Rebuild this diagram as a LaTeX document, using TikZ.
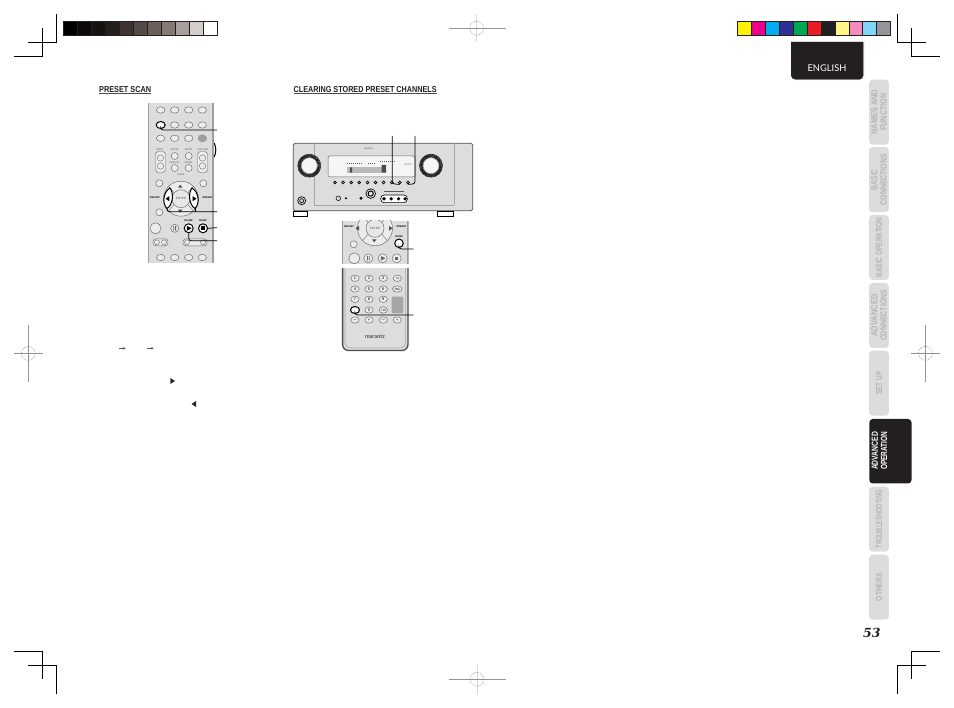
\documentclass[tikz,border=0pt]{standalone}
\usepackage{fontspec}
\setmainfont{Liberation Sans}
\newfontfamily\gillfont{Lato}
\newfontfamily\numfont{DejaVu Serif}
\usetikzlibrary{shapes.geometric,arrows.meta}
\definecolor{inkk}{HTML}{231F20}
\definecolor{tabgray}{HTML}{DBDCDD}
\definecolor{tabtext}{HTML}{B4B5B8}
\definecolor{bodygray}{HTML}{DCDDDC}
\definecolor{btnline}{HTML}{666666}
\newcommand{\fitw}[2]{\resizebox{#1pt}{6.2pt}{\bfseries #2}}
\tikzset{
  x=1pt,y=-1pt,
  crop/.style={line width=0.75pt,black},
  regline/.style={line width=0.5pt,gray!85},
  regpale/.style={line width=0.9pt,gray!30},
  regcirc/.style={line width=0.5pt,gray!90!black,densely dotted},
  tabnode/.style={rotate=90,fill=tabgray,rounded corners=3.5pt,minimum width=65pt,minimum height=19.6pt,inner sep=0pt,align=center,text=tabtext,font=\fontsize{8.5}{9.2}\selectfont},
  heading/.style={anchor=west,inner sep=0pt,text=inkk},
  headrule/.style={line width=0.5pt,gray!60!black},
  btn/.style={ellipse,draw=btnline,line width=0.45pt,fill=bodygray!55!white,minimum width=8.4pt,minimum height=6.4pt,inner sep=0pt},
  rbtn/.style={circle,draw=btnline,line width=0.45pt,fill=bodygray!55!white,minimum size=7pt,inner sep=0pt},
  hlbtn/.style={circle,draw=black,line width=1pt,fill=white,minimum size=8pt,inner sep=0pt},
  hloval/.style={ellipse,draw=black,line width=1pt,fill=white,minimum width=9pt,minimum height=7pt,inner sep=0pt},
  pill/.style={draw=btnline,line width=0.45pt,fill=bodygray!55!white,rounded corners=3pt},
  leader/.style={line width=0.75pt,black,rounded corners=2.5pt},
  tiny/.style={inner sep=0pt,text=black!65,font=\fontsize{2.5}{3}\selectfont},
  tinyb/.style={inner sep=0pt,text=black,font=\fontsize{2.5}{3}\bfseries\selectfont},
  bodyfill/.style={fill=bodygray},
  edge/.style={line width=1.2pt,gray!75},
  ampdot/.style={circle,draw=black,line width=0.7pt,fill=gray!30,minimum size=2.8pt,inner sep=0pt},
}
\newcommand{\dpadat}[2]{%
  \begin{scope}[shift={(#1,#2)}]
    \draw[btnline,line width=0.45pt,fill=bodygray!55!white] (0,0) circle[radius=17.5];
    \draw[btnline,line width=0.45pt,fill=bodygray!70!white] (0,0) circle[radius=9];
    \draw[btnline,line width=0.35pt] (-7,-6) -- (-12.5,-12.5) (7,-6) -- (12.5,-12.5) (-7,6) -- (-12.5,12.5) (7,6) -- (12.5,12.5);
    \fill[black!70] (-3,-11) -- (-0.8,-14) -- (1.4,-11) -- cycle;
    \fill[black!70] (-3,11) -- (-0.8,14) -- (1.4,11) -- cycle;
    \node[tiny,font=\fontsize{3}{3.5}\selectfont] at (0,0) {ENTER};
  \end{scope}}
\begin{document}
\begin{tikzpicture}
\useasboundingbox (0,0) rectangle (954,708);
\fill[white] (0,0) rectangle (954,708);
% crop marks
\draw[crop] (56.3,14) -- (56.3,42.7) -- (28,42.7);
\draw[crop] (42.5,28) -- (42.5,56.5) -- (14,56.5);
\draw[crop] (897.3,14) -- (897.3,42.7) -- (926,42.7);
\draw[crop] (911.3,28) -- (911.3,56.5) -- (940,56.5);
\draw[crop] (14,651.3) -- (42.5,651.3) -- (42.5,678.7);
\draw[crop] (28,665.3) -- (56.3,665.3) -- (56.3,693.5);
\draw[crop] (940,651.3) -- (911.3,651.3) -- (911.3,678.7);
\draw[crop] (926,665.3) -- (897.3,665.3) -- (897.3,693.5);
% registration marks
\draw[regline] (14,353.3) -- (42.7,353.3) (28.3,325) -- (28.3,381.7);
\draw[regcirc] (28.3,353.3) circle[radius=7];
\draw[regline] (911,353.3) -- (939.7,353.3) (925.5,325) -- (925.5,381.7);
\draw[regcirc] (925.5,353.3) circle[radius=7];
\draw[regpale] (476.7,14) -- (476.7,42.5);
\draw[regline] (448.5,28.3) -- (505.5,28.3);
\draw[regcirc] (476.7,28.3) circle[radius=7];
\draw[regpale] (477,665) -- (477,693.7);
\draw[regline] (448.7,679.3) -- (505.7,679.3);
\draw[regcirc] (477,679.3) circle[radius=7];
% grey colour bar
\foreach \c [count=\i from 0] in {000000,0B0A09,151211,231F1C,3D3331,544A47,6B5F5C,857A75,A89E9B,D5CCCC,FFFFFF}{
  \definecolor{cellc}{HTML}{\c}
  \draw[inkk,line width=0.8pt,fill=cellc] (63.3+14*\i,21.5) rectangle (77.3+14*\i,35.5);
}
% colour bar
\foreach \c [count=\i from 0] in {FFF200,EC008C,00AEEF,2E3192,00A651,ED1C24,231F20,FFF685,F68ABF,7FD6F7,939598}{
  \definecolor{cellc}{HTML}{\c}
  \draw[inkk,line width=0.8pt,fill=cellc] (737.3+13.95*\i,21.5) rectangle (751.25+13.95*\i,35.5);
}
% ENGLISH tab
\fill[gray!60] (791,42) -- (864,42) -- (864,75) arc[start angle=0,end angle=90,radius=5] -- (795,80) -- cycle;
\fill[inkk] (791,42) -- (863.2,42) -- (863.2,75.4) arc[start angle=0,end angle=90,radius=4] -- (795,79.4) arc[start angle=90,end angle=180,radius=4] -- cycle;
\node[inner sep=0pt,text=white,font=\gillfont\fontsize{9.3}{10}\selectfont] (english) at (827,68.5) {ENGLISH};
% side tabs
\node[tabnode] (tabnames) at (879,112.2) {\fitw{45}{NAMES AND}\\\fitw{37}{FUNCTION}};
\node[tabnode] (tabbasic) at (879,179.7) {\fitw{21}{BASIC}\\\fitw{51}{CONNECTIONS}};
\node[tabnode] (tabop) at (879,247.5) {\fitw{60}{BASIC OPERATION}};
\node[tabnode] (tabadv) at (879,315.5) {\fitw{42}{ADVANCED}\\\fitw{51}{CONNECTIONS}};
\node[tabnode] (tabset) at (879,383.2) {\fitw{23}{SET UP}};
\fill[inkk,rounded corners=3.5pt] (869.3,419) rectangle (911.5,483.5);
\node[rotate=90,inner sep=0pt,align=center,text=white,font=\fontsize{8.5}{9.2}\selectfont] (tabadvop) at (879.5,451) {\fitw{38}{ADVANCED}\\\fitw{38}{OPERATION}};
\node[tabnode] (tabtrouble) at (879,519.2) {\fitw{58}{TROUBLESHOOTING}};
\node[tabnode] (tabothers) at (879,587.2) {\fitw{28}{OTHERS}};
\node[inner sep=0pt,text=inkk,font=\numfont\bfseries\itshape\fontsize{12.5}{14}\selectfont] (pagenum) at (871.8,632.5) {53};
% headings
\node[heading] (hscan) at (99,89.3) {\resizebox{52pt}{6pt}{\bfseries PRESET SCAN}};
\draw[headrule] ([yshift=-1.2pt]hscan.south west) -- ([yshift=-1.2pt]hscan.south east);
\node[heading] (hclear) at (293.5,89.3) {\resizebox{143pt}{6pt}{\bfseries CLEARING STORED PRESET CHANNELS}};
\draw[headrule] ([yshift=-1.2pt]hclear.south west) -- ([yshift=-1.2pt]hclear.south east);
% ---------- remote 1
\fill[bodyfill] (148,103) rectangle (213.5,263);
\draw[edge] (148.6,103) -- (148.6,263) (213,103) -- (213,263);
\draw[black,line width=1pt] (214.3,143) .. controls (216.3,148) and (216.3,152) .. (214.3,157);
\foreach \y/\n in {110/a,125/b,138.3/c}
  \foreach \x [count=\i] in {160.7,174.7,188.7,202.3}
    \node[btn] (r\n\i) at (\x,\y) {};
\node[circle,fill=gray!75,minimum size=8pt,inner sep=0pt] (rc4x) at (202.3,138.3) {};
\node[hloval] (scanbtn) at (160.7,125) {};
\foreach \x/\t/\n in {160/INPUT/a,174.7/SETUP/b,188.7/MUTE/c,203/VOLUME/d}
  \node[tiny] (l1\n) at (\x,149.5) {\t};
\draw[pill] (155.5,151.5) rectangle (165.5,172.5);
\draw[pill] (197.5,151.5) rectangle (207.5,172.5);
\foreach \x in {160.5,202.5}{
  \draw[btnline,line width=0.4pt] (\x,158) circle[radius=3.2] (\x,166) circle[radius=3.2];
}
\node[tiny] (l1e) at (174.7,162.5) {DISPLAY};
\node[tiny] (l1f) at (188.7,162.5) {SLEEP};
\node[rbtn] (r1m) at (174.7,156) {};
\node[rbtn] (r1n) at (188.7,156) {};
\node[rbtn] (r1o) at (174.7,168) {};
\node[rbtn] (r1p) at (188.7,168) {};
\node[tiny] (l1g) at (181,174.5) {PAGE};
\node[rbtn] (r1q) at (159.3,183.3) {};
\node[rbtn] (r1r) at (203.3,183.3) {};
\dpadat{181}{198.7}
% highlighted lenses
\draw[black,line width=1pt,fill=white] (170,188) .. controls (163,192) and (162,204) .. (167,208.5) .. controls (173,205) and (174,193) .. (170,188) -- cycle;
\draw[black,line width=1pt,fill=white] (192,188) .. controls (199,192) and (200,204) .. (195,208.5) .. controls (189,205) and (188,193) .. (192,188) -- cycle;
\fill[black] (165.5,198.7) -- (169.3,196.2) -- (169.3,201.2) -- cycle;
\fill[black] (196.5,198.7) -- (192.7,196.2) -- (192.7,201.2) -- cycle;
\node[tinyb] (lpl) at (155,197.5) {PRESET};
\node[tinyb] (lpr) at (207.5,197.5) {PRESET};
\node[rbtn] (r1s) at (159.3,212.3) {};
\node[rbtn,minimum size=11pt] (r1t) at (155.5,228.3) {};
\node[rbtn,minimum size=8pt] (r1u) at (174.7,228.3) {};
\fill[btnline] (173.4,226) rectangle (174.2,230.6) (175.2,226) rectangle (176,230.6);
\node[hlbtn,minimum size=9pt] (playbtn) at (188.7,228.3) {};
\fill[black] (186.8,225.8) -- (191.6,228.3) -- (186.8,230.8) -- cycle;
\node[hlbtn,minimum size=9pt] (stopbtn) at (203,228.3) {};
\fill[black] (201,226.3) rectangle (205,230.3);
\node[tinyb] (lpause) at (188.7,220.5) {PAUSE};
\node[tinyb] (lband) at (203,220.5) {BAND};
\draw[pill] (153,238.8) rectangle (168,245.8);
\draw[pill] (183,238.8) rectangle (207,245.8);
\draw[btnline,line width=0.4pt] (157,242.3) circle[radius=2.5] (164,242.3) circle[radius=2.5] (187,242.3) circle[radius=2.5] (203,242.3) circle[radius=2.5];
\foreach \x [count=\i] in {160.7,174.7,188.7,202.3}
  \node[btn] (rd\i) at (\x,257.5) {};
% leaders of remote 1
\coordinate (scanend) at (217,130);
\coordinate (tuneend) at (217,211.7);
\coordinate (stopend) at (217,227.7);
\coordinate (playend) at (217,240.7);
\coordinate (lenl) at (167,208.5);
\coordinate (lenr) at (195,208.5);
\draw[leader] (scanbtn.south) |- (scanend);
\draw[leader] (lenl) |- (tuneend);
\draw[leader] (lenr) -- (lenr |- tuneend);
\draw[leader] (stopbtn.east) -- (stopend);
\draw[leader] (playbtn.south) |- (playend);
% tiny arrows and triangles of the text column
\draw[gray!70!black,line width=0.5pt,-{Latex[length=2.6pt,width=2.6pt]}] (119,348.3) -- (126,348.3);
\draw[gray!70!black,line width=0.5pt,-{Latex[length=2.6pt,width=2.6pt]}] (147,348.3) -- (154,348.3);
\fill[black!85] (170.3,378) -- (175,381) -- (170.3,384) -- cycle;
\fill[black!85] (196,401) -- (191.5,404) -- (196,407) -- cycle;
% ---------- amplifier
\draw[black!70,line width=0.7pt,fill=bodygray,rounded corners=1.5pt] (293.3,143.3) rectangle (472.7,210.7);
\draw[gray!70,line width=0.5pt] (314.3,143.3) -- (314.3,205) (454,143.3) -- (454,205) (314.3,205) -- (454,205);
\draw[black,line width=0.7pt,fill=white] (437,211) rectangle (453,216);
\draw[black,line width=0.7pt,fill=white] (293,211) rectangle (307,216);
\foreach \x/\n in {309.3/kl,431/kr}{
  \draw[black,line width=0.5pt,fill=white!92!gray] (\x,165.7) circle[radius=11.5];
  \draw[black!85,line width=3pt,dash pattern=on 0.9pt off 0.35pt] (\x,165.7) circle[radius=9.8];
  \draw[black!60,line width=0.4pt,fill=white!92!gray] (\x,165.7) circle[radius=8];
}
\draw[gray!80!black,line width=0.5pt,fill=white!92!gray,rounded corners=2pt] (328,156) rectangle (415,177);
\node[tiny] (amplogo) at (368.3,149) {marantz};
\fill[gray!55] (346.7,167.3) rectangle (381.7,172.7);
\fill[black!70] (350,167.3) rectangle (352,172.7) (381.7,165) rectangle (386,172.7);
\draw[gray!70!black,line width=1pt,dash pattern=on 1pt off 1pt] (347,163.5) -- (362,163.5) (368,163.5) -- (375,163.5) (380,162) -- (396,162);
\node[tiny] (ampr) at (408,165) {AUTO};
\foreach \i in {1,...,10}
  \node[ampdot] (ab\i) at (335+8.1*\i-8.1,182.5) {};
\coordinate (ampa) at (392.3,136);
\coordinate (ampb) at (415,136);
\draw[leader] (ampa) -- (392.3,184) -- (ab9.south);
\draw[leader] (ampb) -- (415,184) -- (ab10.south);
\draw[black,line width=0.7pt,fill=gray!30] (301.7,200.7) circle[radius=4];
\draw[black,line width=0.6pt] (301.7,200.7) circle[radius=2];
\draw[black,line width=0.5pt,fill=gray!30] (338.3,198.3) circle[radius=2.3];
\fill[black] (346,198.3) circle[radius=1.1] (361,198.3) circle[radius=1.7];
\draw[black,line width=0.7pt,fill=gray!20] (370.7,193.6) circle[radius=4.8];
\draw[black,line width=1pt] (370.7,193.6) circle[radius=2.6];
\draw[black,line width=0.6pt,fill=white,rounded corners=3.5pt] (380.7,195) rectangle (407.3,202.7);
\foreach \x in {384,391.2,398.5,405}
  \fill[black] (\x,198.8) circle[radius=1.8];
\draw[gray!70!black,line width=0.4pt] (384,191.5) -- (404,191.5);
% ---------- remote 2, top part
\begin{scope}
\clip (342,221) rectangle (408.7,264);
\fill[bodyfill] (342,221) rectangle (408.7,264);
\draw[edge] (342.6,221) -- (342.6,264) (408,221) -- (408,264);
\dpadat{375}{228.3}
\fill[black!70] (355.5,228.3) -- (359,226) -- (359,230.6) -- cycle;
\fill[black!70] (392.5,228.3) -- (389,226) -- (389,230.6) -- cycle;
\node[tinyb] (lp2l) at (349,227) {PRESET};
\node[tinyb] (lp2r) at (401.5,227) {PRESET};
\node[rbtn] (r2a) at (353.7,244.3) {};
\node[rbtn,minimum size=11pt] (r2b) at (354.3,258.3) {};
\node[rbtn,minimum size=9pt] (r2c) at (368.3,258.3) {};
\fill[btnline] (367,256) rectangle (367.8,260.6) (368.9,256) rectangle (369.7,260.6);
\node[rbtn,minimum size=9pt] (r2d) at (382.7,258.3) {};
\fill[btnline] (381,256) -- (385.4,258.3) -- (381,260.6) -- cycle;
\node[rbtn,minimum size=9pt] (r2e) at (396.7,258.3) {};
\fill[btnline] (395,256.6) rectangle (398.4,260);
\end{scope}
\node[hlbtn,minimum size=8.5pt] (memobtn) at (399,243.3) {};
\node[tinyb] (lmem) at (399,236.5) {BAND};
\coordinate (memoend) at (413.3,249);
\draw[leader] (memobtn.south) |- (memoend);
% ---------- remote 2, bottom part
\begin{scope}
\clip (340,268.5) rectangle (411,353);
\fill[bodyfill,rounded corners=6pt] (342.6,262) -- (342.6,350.5) -- (408,350.5) -- (408,262) -- cycle;
\draw[gray!60!black,line width=1.3pt,rounded corners=6pt] (342.6,262) -- (342.6,350.5) -- (408,350.5) -- (408,262);
\draw[gray!70,line width=0.6pt,rounded corners=5pt] (345,262) -- (345,348) -- (405.6,348) -- (405.6,262);
\end{scope}
\foreach \y/\a/\b/\c/\n in {278.3/1/2/3/a,289/4/5/6/b,299.3/7/8/9/c}{
  \node[btn,font=\fontsize{4}{4}\selectfont] (s\n1) at (355,\y) {\a};
  \node[btn,font=\fontsize{4}{4}\selectfont] (s\n2) at (369,\y) {\b};
  \node[btn,font=\fontsize{4}{4}\selectfont] (s\n3) at (383.3,\y) {\c};
}
\node[btn,font=\fontsize{3}{3}\selectfont] (sa4) at (397.3,278.3) {+4};
\node[btn,font=\fontsize{4}{4}\selectfont] (sb4) at (397.3,289) {$\infty$};
\node[hloval] (clearbtn) at (355,310) {};
\node[btn,font=\fontsize{4}{4}\selectfont] (sd2) at (369,310) {0};
\node[btn,font=\fontsize{3}{3}\selectfont] (sd3) at (383.3,310) {+10};
\fill[gray!70,rounded corners=1pt] (391.7,296.7) rectangle (403.3,313.3);
\foreach \x/\s/\n in {355/$-$/a,369/+/b,383.3/$-$/c,397.3/+/d}
  \node[btn,font=\fontsize{4}{4}\selectfont] (se\n) at (\x,320) {\s};
\node[inner sep=0pt,text=black!70,font=\gillfont\bfseries\fontsize{5.5}{6}\selectfont] (brand) at (375,336.7) {marantz};
\coordinate (clearend) at (413.3,315);
\draw[leader] (clearbtn.south) |- (clearend);
\end{tikzpicture}
\end{document}
